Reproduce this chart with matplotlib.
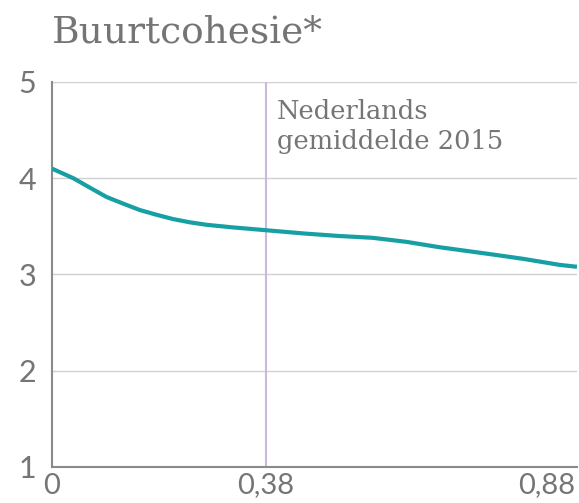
import numpy as np
import matplotlib.pyplot as plt

# waarden
x_vals = [0.0, 0.038, 0.068, 0.097, 0.127, 0.156, 0.186, 0.215, 0.245, 0.275,
          0.32, 0.368, 0.41, 0.452, 0.51, 0.570, 0.630, 0.689, 0.778, 0.837,
          0.902, 0.933]
y_vals = [4.10, 4.00, 3.90, 3.805, 3.735, 3.67, 3.62, 3.576, 3.542, 3.516,
          3.49, 3.466, 3.445, 3.424, 3.40, 3.381, 3.339, 3.283, 3.212, 3.163,
          3.10, 3.08]
x_ticks = [0, 0.38, 0.88]
x_ticklabels = ['0', '0,38', '0,88']
y_ticks = [1, 2, 3, 4, 5]
y_ticklabels = ['1', '2', '3', '4', '5']
nl_avg = 0.38

text_grey = '#757575'
teal = '#17a0a3'
lavender = '#cbb8dc'

plt.rcParams['font.family'] = ['Lato', 'DejaVu Sans']

fig = plt.figure(figsize=(5.79, 5.03), dpi=100)
ax = fig.add_axes([0.0898, 0.0716, 0.9067, 0.7654])

ax.plot(x_vals, y_vals, color=teal, lw=3, solid_capstyle='butt',
        solid_joinstyle='round', zorder=3)
ax.axvline(nl_avg, color=lavender, lw=1.5, zorder=2)

ax.set_xlim(0, 0.933)
ax.set_ylim(1, 5)
ax.grid(axis='y', color='#d0d0d0', lw=1)
ax.set_axisbelow(True)

for s in ['top', 'right']:
    ax.spines[s].set_visible(False)
for s in ['left', 'bottom']:
    ax.spines[s].set_color('#8a8a8a')
    ax.spines[s].set_linewidth(1.5)

ax.tick_params(length=0)
ax.tick_params(axis='x', pad=4)
ax.tick_params(axis='y', pad=24)
ax.set_xticks(x_ticks)
ax.set_xticklabels(x_ticklabels, fontsize=21, color=text_grey)
ax.set_yticks(y_ticks)
ax.set_yticklabels(y_ticklabels, fontsize=22, color=text_grey, ha='left')

ax.text(nl_avg + 0.02, 4.82, 'Nederlands\ngemiddelde 2015', fontsize=18.5,
        family='DejaVu Serif', color=text_grey, va='top', ha='left',
        linespacing=1.25)

fig.text(0.09, 0.935, 'Buurtcohesie*', fontsize=27, family='DejaVu Serif',
         color=text_grey, va='center', ha='left')

fig.savefig('out.png', dpi=100)
